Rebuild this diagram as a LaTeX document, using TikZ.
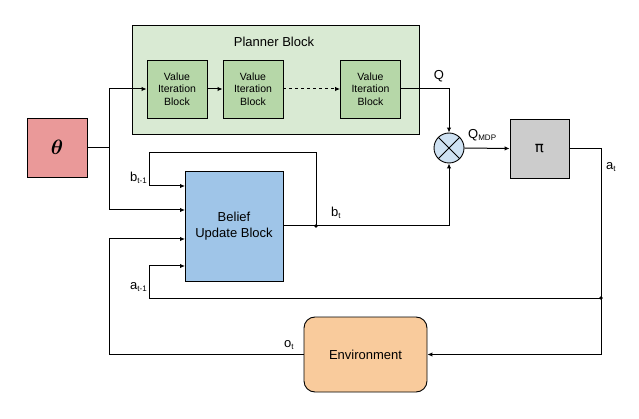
\documentclass[tikz,border=0pt]{standalone}
\usepackage{fontspec}
\setmainfont{Liberation Sans}
\newfontfamily\pifont{DejaVu Sans}
\usepackage{amsmath}
\usepackage{bm}
\usetikzlibrary{arrows.meta,shapes.geometric}
\definecolor{plannerfill}{HTML}{D9EAD3}
\definecolor{vibfill}{HTML}{B6D7A8}
\definecolor{thetafill}{HTML}{EA9999}
\definecolor{belieffill}{HTML}{9FC5E8}
\definecolor{envfill}{HTML}{F9CB9C}
\definecolor{pifill}{HTML}{CCCCCC}
\definecolor{multfill}{HTML}{CFE2F3}
\tikzset{
  blk/.style={draw=black, line width=0.9pt, inner sep=0pt, align=center},
  vib/.style={blk, fill=vibfill, minimum width=60pt, minimum height=58pt, font=\fontsize{10.5}{12.5}\selectfont},
  conn/.style={line width=1pt, -{Latex[length=5pt,width=4.5pt]}},
  wire/.style={line width=1pt},
  lbl/.style={font=\fontsize{13}{15}\selectfont, inner sep=0pt},
  jdot/.style={circle, fill=black, inner sep=0pt, minimum size=3.6pt}
}
\newcommand{\sbs}[1]{\raisebox{-0.25ex}{\fontsize{8}{9}\selectfont #1}}
\begin{document}
\begin{tikzpicture}[x=1pt,y=-1pt]
\useasboundingbox (0,0) rectangle (639,419);
% planner
\node[blk, fill=plannerfill, minimum width=287pt, minimum height=109pt] (planner) at (275.5,79.5) {};
\node[lbl] (plannerlbl) at (274,42) {Planner Block};
\node[vib] (vib1) at (177,89) {Value\\Iteration\\Block};
\node[vib] (vib2) at (253,89) {Value\\Iteration\\Block};
\node[vib] (vib3) at (370.5,89) {Value\\Iteration\\Block};
% theta
\node[blk, fill=thetafill, minimum width=60pt, minimum height=59pt] (theta) at (57,147.5) {\fontsize{21}{23}\selectfont$\bm{\theta}$};
% belief
\node[blk, fill=belieffill, minimum width=98pt, minimum height=110pt, font=\fontsize{13}{15.5}\selectfont] (belief) at (234,226) {Belief\\Update Block};
% multiplier
\node[draw=black, line width=0.9pt, circle, fill=multfill, minimum size=30pt, inner sep=0pt] (mult) at (449,148) {};
\draw[line width=0.9pt] (mult.north east) -- (mult.south west) (mult.north west) -- (mult.south east);
% pi
\node[blk, fill=pifill, minimum width=59pt, minimum height=59pt] (pi) at (539.5,148.5) {\pifont\fontsize{15}{17}\selectfont π};
% environment
\node[blk, fill=envfill, rounded corners=11pt, minimum width=123pt, minimum height=75pt, font=\fontsize{13}{15}\selectfont] (env) at (365.5,354.5) {Environment};

% coordinates
\coordinate (split) at (109,147.5);
\coordinate (inb) at (185,186);
\coordinate (inth) at (185,210);
\coordinate (ino) at (185,239);
\coordinate (ina) at (185,266);
\node[jdot] (btap) at (316,226) {};
\node[jdot] (atap) at (601,298) {};

% connectors
\draw[wire] (theta.east) -- (split);
\draw[conn] (split) |- (vib1.west);
\draw[conn] (split) |- (inth);
\draw[conn] (vib1.east) -- (vib2.west);
\draw[conn, dashed] (vib2.east) -- (vib3.west);
\draw[conn] (vib3.east) -| (mult.north);
\draw[conn] (belief.east) -| (mult.south);
\draw[conn] (btap.center) -- (316,153) -- (149,153) |- (inb);
\draw[conn] (mult.east) -- (pi.west);
\draw[conn] (pi.east) -| (atap.center) |- (env.east);
\draw[conn] (atap.center) -- (149,298) |- (ina);
\draw[conn] (env.west) -- (109,354.5) |- (ino);

% labels
\node[lbl] (qlbl) at (439,76) {Q};
\node[lbl, anchor=west] (qmdplbl) at (468,135) {Q\sbs{MDP}};
\node[lbl, anchor=west] (atlbl) at (606,167) {a\sbs{t}};
\node[lbl, anchor=west] (btlbl) at (331,213) {b\sbs{t}};
\node[lbl, anchor=east] (bt1lbl) at (147,178) {b\sbs{t-1}};
\node[lbl, anchor=east] (at1lbl) at (147,287) {a\sbs{t-1}};
\node[lbl, anchor=west] (otlbl) at (284,345) {o\sbs{t}};
\end{tikzpicture}
\end{document}
